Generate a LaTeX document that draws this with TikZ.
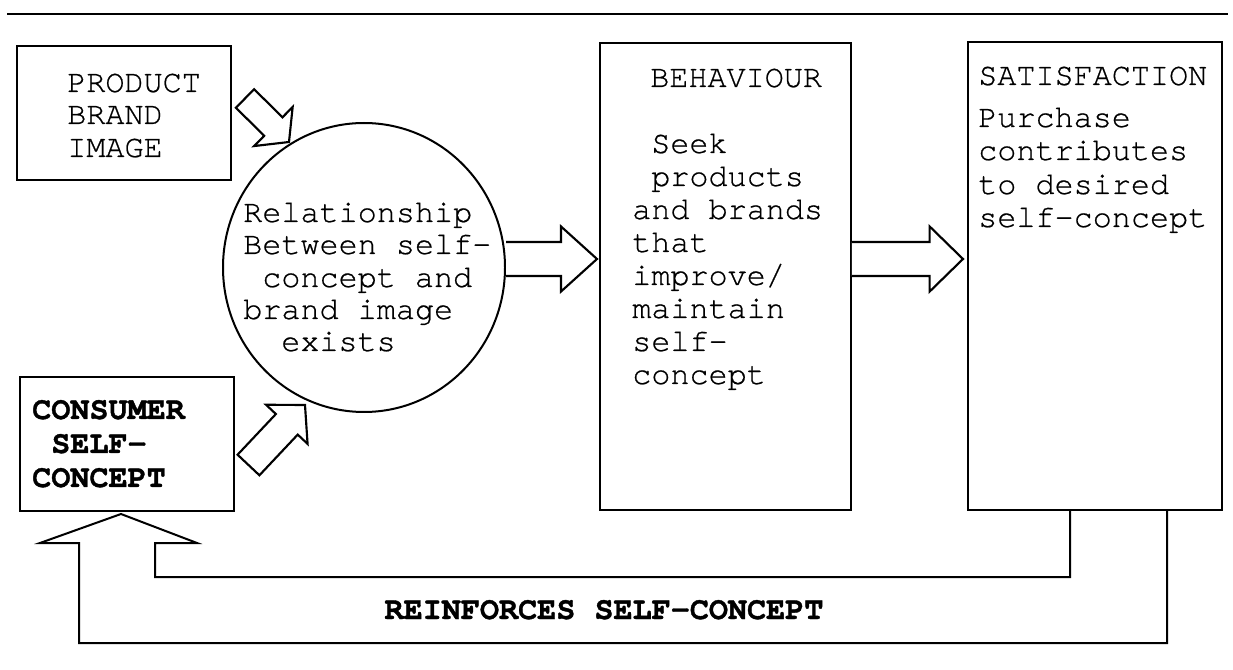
\documentclass[tikz,border=0pt]{standalone}
\usepackage{fontspec}
\newfontfamily\monofont[FakeBold=0.6]{TeX Gyre Cursor}
\newfontfamily\monobold[FakeBold=1.2]{TeX Gyre Cursor Bold}
\usetikzlibrary{calc,fit,shapes.geometric}

\tikzset{
  boxline/.style={draw, line width=1.2pt, inner sep=0pt},
  blockline/.style={draw, line width=1.6pt, fill=white, line join=miter},
  lbl/.style={font=\monofont\fontsize{23.85}{25}\selectfont, inner sep=0pt, anchor=base west},
  lblb/.style={lbl, font=\monobold\fontsize{23.85}{25}\selectfont},
}

% block arrow: #1 start, #2 tip, #3 half shaft width, #4 half head width,
% #5 head length, #6 path ending (-- cycle for a closed tail)
\newcommand\blockarrow[6]{%
  \path ($(#2)!#5!(#1)$) coordinate (ba);
  \draw[blockline]
    ($(#1)!#3!90:(#2)$) -- ($(ba)!#3!90:(#2)$) -- ($(ba)!#4!90:(#2)$)
    -- (#2)
    -- ($(ba)!#4!-90:(#2)$) -- ($(ba)!#3!-90:(#2)$) -- ($(#1)!#3!-90:(#2)$) #6;
}

\begin{document}
\begin{tikzpicture}[x=0.75pt, y=-0.75pt]
  \useasboundingbox (0,0) rectangle (1233,670);

  % rule across the top
  \coordinate (ruleL) at (7,14);
  \coordinate (ruleR) at (1228,14);
  \draw[line width=1.4pt] (ruleL) -- (ruleR);

  % boxes
  \node[boxline, fit={(17,46) (231,180)}] (prod) {};
  \node[boxline, fit={(20,377) (234,511)}] (cons) {};
  \node[boxline, fit={(600,43) (851,510)}] (beh) {};
  \node[boxline, fit={(968,42) (1222,510)}] (sat) {};
  \node[draw, ellipse, line width=1.5pt, inner sep=0pt,
        minimum width=211.5pt, minimum height=216.75pt] (rel) at (364,267.5) {};

  % texts
  \node[lbl] (p1) at (67,92) {PRODUCT};
  \node[lbl] (p2) at (67,124) {BRAND};
  \node[lbl] (p3) at (67,157) {IMAGE};

  \node[lblb] (c1) at (32,419) {CONSUMER};
  \node[lblb] (c2) at (51,453) {SELF-};
  \node[lblb] (c3) at (32,487) {CONCEPT};

  \node[lbl] (r1) at (243,222) {Relationship};
  \node[lbl] (r2) at (243,254) {Between self-};
  \node[lbl] (r3) at (262,287) {concept and};
  \node[lbl] (r4) at (243,319) {brand image};
  \node[lbl] (r5) at (281,351) {exists};

  \node[lbl] (b0) at (650,87) {BEHAVIOUR};
  \node[lbl] (b1) at (651,153) {Seek};
  \node[lbl] (b2) at (651,186) {products};
  \node[lbl] (b3) at (632,219) {and brands};
  \node[lbl] (b4) at (632,252) {that};
  \node[lbl] (b5) at (632,285) {improve/};
  \node[lbl] (b6) at (632,318) {maintain};
  \node[lbl] (b7) at (632,351) {self-};
  \node[lbl] (b8) at (632,384) {concept};

  \node[lbl] (s0) at (978,85) {SATISFACTION};
  \node[lbl] (s1) at (978,127) {Purchase};
  \node[lbl] (s2) at (978,160) {contributes};
  \node[lbl] (s3) at (978,194) {to desired};
  \node[lbl] (s4) at (978,227) {self-concept};

  \node[lblb, anchor=base] (fbtext) at (604,619) {REINFORCES SELF-CONCEPT};

  % block arrows into the relationship circle
  \coordinate (a1s) at (245,98.5);
  \coordinate (a1t) at (289,142);
  \blockarrow{a1s}{a1t}{9.75pt}{20.6pt}{16.5pt}{-- cycle}
  \coordinate (a2s) at (248.5,465);
  \coordinate (a2t) at (305,405);
  \blockarrow{a2s}{a2t}{11.25pt}{21.4pt}{19.9pt}{-- cycle}

  % block arrows to the right
  \coordinate (a3t) at (597,259);
  \coordinate (a3s) at (rel.east |- a3t);
  \blockarrow{a3s}{a3t}{12.75pt}{24.4pt}{27pt}{}
  \coordinate (a4t) at (963,259);
  \coordinate (a4s) at (beh.east |- a4t);
  \blockarrow{a4s}{a4t}{12.75pt}{24.4pt}{25pt}{}

  % feedback arrow back to the consumer self-concept
  \coordinate (fi) at (1070,577);
  \coordinate (fo) at (1167,643);
  \coordinate (ftip) at (121,514);
  \draw[line width=1.5pt, line join=miter]
    (sat.south -| fi) -- (fi) -- (155,577) -- (155,543) -- (197,543)
    -- (ftip) -- (40,543) -- (79,543) -- (79,643) -- (fo) -- (sat.south -| fo);
\end{tikzpicture}
\end{document}
